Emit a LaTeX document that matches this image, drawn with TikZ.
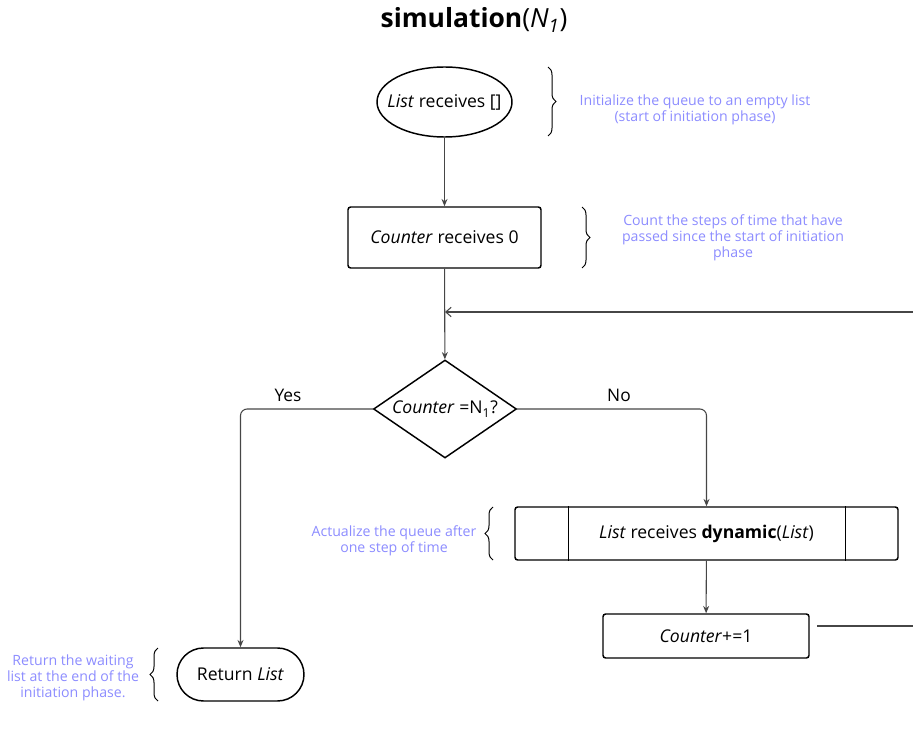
\documentclass[tikz,border=0pt]{standalone}
\usepackage{fontspec}
\setmainfont{Open Sans}
\usetikzlibrary{shapes.geometric,shapes.misc,arrows.meta,decorations.pathreplacing,calc}
\definecolor{note}{RGB}{140,140,255}
\definecolor{conn}{RGB}{70,70,70}
\begin{document}
\begin{tikzpicture}[x=0.75pt,y=-0.75pt,
  nodebox/.style={draw=black,line width=1.1pt,rounded corners=2pt,inner sep=0pt,font=\fontsize{13.2}{16}\selectfont},
  connector/.style={draw=conn,line width=0.8pt},
  arr/.style={connector,-{Stealth[length=5.5pt,width=4.5pt]}},
  notetext/.style={text=note,align=center,font=\fontsize{10.6}{12.2}\selectfont,inner sep=0pt},
  bracestyle/.style={draw=black,line width=0.75pt,decorate,decoration={brace,amplitude=6pt}},
  lbl/.style={font=\fontsize{13}{16}\selectfont,inner sep=0pt}]
\useasboundingbox (0,0) rectangle (913,731);

\node[font=\fontsize{19.8}{24}\selectfont,inner sep=0pt] (title) at (474,20) {\textbf{simulation}(\textit{N\textsubscript{1}})};

\node[nodebox,shape=ellipse,rounded corners=0pt,inner xsep=-8.5pt,inner ysep=0pt,minimum width=101.25pt,minimum height=52.5pt] (e1) at (444.5,102) {\textit{List} receives []};
\node[nodebox,shape=rectangle,minimum width=144.75pt,minimum height=45.75pt] (b1) at (444.5,237.5) {\textit{Counter} receives 0};
\node[nodebox,shape=diamond,aspect=1.46,rounded corners=0pt,minimum width=107.25pt,minimum height=73.5pt] (d1) at (445,409) {\textit{Counter} =N\textsubscript{1}?};
\node[nodebox,shape=rectangle,minimum width=287.25pt,minimum height=39.75pt] (b2) at (706.5,533.5) {\textit{List} receives \textbf{dynamic}(\textit{List})};
\draw[line width=0.8pt] ($(b2.north west)+(54,0)$) -- ($(b2.south west)+(54,0)$);
\draw[line width=0.8pt] ($(b2.north east)+(-53,0)$) -- ($(b2.south east)+(-53,0)$);
\node[nodebox,shape=rectangle,minimum width=154.5pt,minimum height=33pt] (b3) at (706,636) {\textit{Counter}+=1};
\node[nodebox,shape=rounded rectangle,rounded corners=0pt,minimum width=95.25pt,minimum height=39.75pt] (r1) at (240.5,674.5) {Return \textit{List}};

% connectors
\draw[arr] (e1) -- (b1);
\draw[arr] (b1) -- (d1);
\coordinate (fbstart) at (913,312);
\draw[connector,-{Straight Barb[length=4pt,width=7pt]}] (fbstart) -- (fbstart -| d1);
\draw[arr,rounded corners=5pt] (d1.west) -| (r1.north);
\draw[arr,rounded corners=5pt] (d1.east) -| (b2.north);
\draw[arr] (b2) -- (b3);
\coordinate (outA) at (817,626);
\coordinate (outB) at (913,626);
\draw[connector] (outA) -- (outB);

\node[lbl] (yes) at (288,395) {Yes};
\node[lbl] (no) at (619,395) {No};

% braces and notes
\draw[bracestyle] (548,67) -- (548,136);
\node[notetext] (n1) at (695,110) {Initialize the queue to an empty list\\(start of initiation phase)};
\draw[bracestyle] (582,207) -- (582,268);
\node[notetext] (n2) at (733,238) {Count the steps of time that have\\passed since the start of initiation\\phase};
\draw[bracestyle] (493,560) -- (493,507);
\node[notetext] (n3) at (394,541) {Actualize the queue after\\one step of time};
\draw[bracestyle] (158,701) -- (158,648);
\node[notetext] (n4) at (73,678) {Return the waiting\\list at the end of the\\initiation phase.};
\end{tikzpicture}
\end{document}
